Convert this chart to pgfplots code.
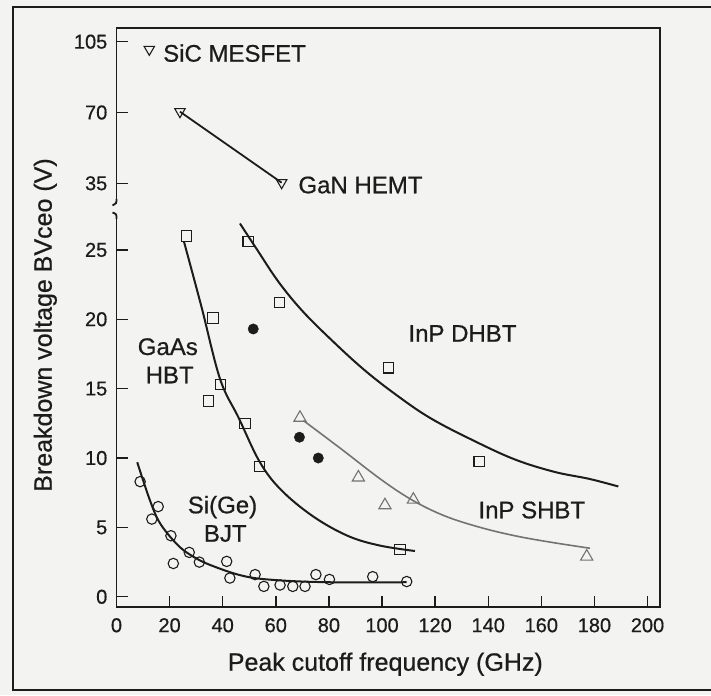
\documentclass[border=0pt]{standalone}
\usepackage{pgfplots}
\pgfplotsset{compat=1.18}
\usepackage{fontspec}
\setmainfont{Liberation Sans}[FakeBold=0.6]
\definecolor{paper}{RGB}{243,243,241}
\definecolor{ink}{RGB}{28,28,28}
\definecolor{shbt}{RGB}{115,115,115}
\pgfplotsset{
  commonax/.style={
    at={(116.5pt,88pt)}, anchor=south west,
    scale only axis, width=543.5pt, height=579pt,
    xmin=0, xmax=204.7,
    axis line style={ink, line width=1.9pt},
    tick style={ink, line width=1.4pt},
    major tick length=11pt,
    tick pos=left,
    tick label style={font=\fontsize{20}{24}\selectfont, text=ink},
    /pgf/number format/assume math mode=true,
    yticklabel style={anchor=east, inner sep=0pt, xshift=-9pt},
    xticklabel style={anchor=north, inner sep=0pt, yshift=-11pt},
  }
}
\begin{document}
\begin{tikzpicture}[x=1pt,y=1pt]
\useasboundingbox (0,0) rectangle (711,695);
\fill[paper] (0,0) rectangle (711,695);
\draw[ink, line width=2pt] (711,688) -- (13,688) -- (13,5) -- (711,5);

% lower part of the broken axis
\begin{axis}[commonax,
  ymin=-0.735, ymax=40.99,
  xtick={0,20,...,200},
  ytick={0,5,10,15,20,25},
]
% Si(Ge) BJT
\addplot[ink, line width=2pt, smooth, tension=0.6] coordinates {
 (7.8,9.7) (12.6,6.95) (16.4,5.3) (22.7,3.8) (28,3.0) (35.2,2.3) (47.8,1.5) (60.3,1.2) (80,1.05) (109.3,1.05)};
\addplot[only marks, mark=o, mark size=5.2pt, ink, line width=1.1pt, mark options={fill=paper}] coordinates {
 (8.9,8.3) (15.7,6.5) (13.3,5.6) (20.5,4.4) (21.4,2.4) (27.4,3.2) (31.2,2.5) (41.5,2.55) (42.7,1.35)
 (52.2,1.6) (55.5,0.75) (61.6,0.85) (66.4,0.75) (71.0,0.75) (75.1,1.6) (80.2,1.25) (96.5,1.45) (109.3,1.1)};
% GaAs HBT
\addplot[ink, line width=2pt, smooth, tension=0.6] coordinates {
 (25.4,25.6) (32,20.9) (39,15.7) (46,12.9) (54,9.7) (62,7.7) (74,5.8) (87,4.4) (99,3.7) (112.4,3.3)};
\addplot[only marks, mark=square, mark size=5.2pt, ink, line width=1.1pt, mark options={fill=paper}] coordinates {
 (26.4,26.0) (36.4,20.1) (34.6,14.1) (39.2,15.3) (48.4,12.5) (53.8,9.4) (106.8,3.4)};
% InP DHBT
\addplot[ink, line width=2pt, smooth, tension=0.6] coordinates {
 (46.5,26.9) (53,25.0) (61,22.7) (70,20.6) (81,18.5) (93,16.4) (105,14.6) (118,12.9) (134,11.3) (150,9.9) (165,9.0) (178,8.5) (189,7.95)};
\addplot[only marks, mark=square, mark size=5.2pt, ink, line width=1.1pt, mark options={fill=paper}] coordinates {
 (49.6,25.6) (61.3,21.2) (102.4,16.5) (136.6,9.75)};
% filled circles
\addplot[only marks, mark=*, mark size=5.2pt, ink] coordinates {
 (51.5,19.3) (68.9,11.5) (76.0,10.0)};
% InP SHBT
\addplot[shbt, line width=1.6pt, smooth, tension=0.6] coordinates {
 (70.4,12.7) (85,10.6) (100,8.4) (112,6.9) (124,5.8) (137,5.0) (150,4.4) (163,3.95) (178.3,3.5)};
\addplot[only marks, mark=triangle, mark size=7pt, shbt, line width=1.1pt, mark options={fill=paper}] coordinates {
 (69.1,12.9) (91.1,8.6) (101.1,6.6) (111.8,7.0) (177.1,2.9)};
\end{axis}

% upper part of the broken axis
\begin{axis}[commonax,
  ymin=-174.45, ymax=111.77,
  xtick=\empty,
  ytick={35,70,105},
]
\addplot[ink, line width=1.8pt, mark=triangle, mark size=6pt, mark options={rotate=180, fill=paper, line width=1.1pt}] coordinates {
 (23.9,70.4) (62.2,35.3)};
\addplot[only marks, ink, mark=triangle, mark size=6pt, mark options={rotate=180, fill=paper, line width=1.1pt}] coordinates {
 (12.35,101.2)};
\end{axis}

% axis break
\fill[paper] (110,481) rectangle (121,491);
\draw[ink, line width=1.8pt] (116.5,496) .. controls (116.5,492) .. (112.5,489.5);
\draw[ink, line width=1.8pt] (112.5,482.5) .. controls (116.5,481) .. (116.5,476);

% labels
\begin{scope}[every node/.style={inner sep=0pt, text=ink, font=\fontsize{24}{28}\selectfont}]
\node[anchor=base west] at (163,633.3) {SiC MESFET};
\node[anchor=base west] at (298.3,501.7) {GaN HEMT};
\node[anchor=base west] at (408.3,353.3) {InP DHBT};
\node[anchor=base west] at (478.3,176.7) {InP SHBT};
\node[anchor=base] at (167.8,340) {GaAs};
\node[anchor=base] at (169.7,311.7) {HBT};
\node[anchor=base] at (222.5,181.7) {Si(Ge)};
\node[anchor=base] at (225.3,153.3) {BJT};
\node[anchor=base, font=\fontsize{25}{30}\selectfont] at (385.3,24.3) {Peak cutoff frequency (GHz)};
\node[anchor=base, rotate=90, font=\fontsize{25}{30}\selectfont] at (51.7,370) {Breakdown voltage BVceo (V)};
\end{scope}
\end{tikzpicture}
\end{document}
